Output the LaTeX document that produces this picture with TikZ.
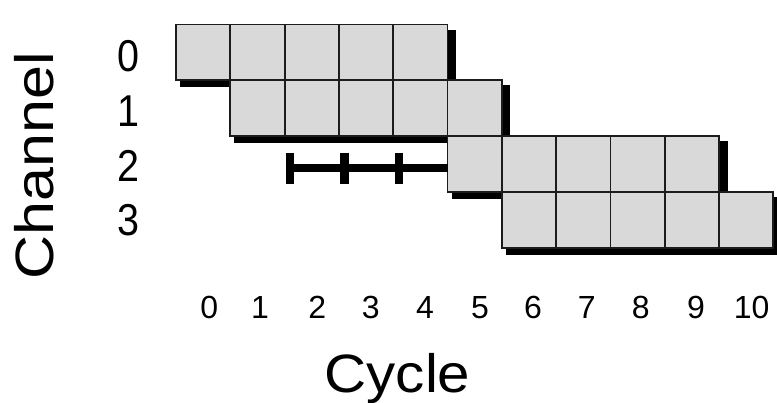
\documentclass[tikz,border=0pt]{standalone}
\usepackage{fontspec}
\setmainfont{Liberation Sans}
\usetikzlibrary{calc,backgrounds}
\definecolor{cellfill}{RGB}{217,217,217}
\definecolor{cellline}{RGB}{28,28,28}
\tikzset{
  cell/.style={draw=cellline, fill=cellfill, line width=1.8pt,
    minimum width=54.3pt, minimum height=55.8pt, inner sep=0pt,
    outer sep=0pt, anchor=north west},
  shadowfill/.style={fill=black},
  barline/.style={line width=8.5pt, draw=black},
  tickline/.style={line width=8.5pt, draw=black},
  chnum/.style={inner sep=0pt, font=\fontsize{39.5}{40}\selectfont},
  cycnum/.style={inner sep=0pt, font=\fontsize{32}{34}\selectfont},
  axlabel/.style={inner sep=0pt, font=\fontsize{54}{56}\selectfont}
}
\begin{document}
\begin{tikzpicture}[x=1pt,y=-1pt]
\useasboundingbox (0,0) rectangle (777,402);
\begin{pgfonlayer}{background}
  \fill[white] (0,0) rectangle (777,402);
\end{pgfonlayer}
% rows: row index / first column / last column / top
\foreach \r/\a/\b/\t in {0/0/4/24.5, 1/1/5/80.3, 2/5/9/136.1, 3/6/10/191.9}{
  \foreach \k in {\a,...,\b}{
    \node[cell] (c-\r-\k) at ({176+54.3*\k},\t) {};
  }
  \begin{pgfonlayer}{background}
    \fill[shadowfill] ($(c-\r-\a.north west)+(4,5)$) rectangle ($(c-\r-\b.south east)+(8.5,7)$);
  \end{pgfonlayer}
}
% bar in channel 2
\coordinate (t1) at (290,168);
\coordinate (t2) at (344.5,168);
\coordinate (t3) at (399,168);
\draw[barline] (t1) -- (t1 -| c-2-5.west);
\foreach \p in {t1,t2,t3}{
  \draw[tickline] ($(\p)+(0,-15.5)$) -- ($(\p)+(0,15.5)$);
}
% channel numbers
\foreach \n/\y in {0/56,1/111,2/165.5,3/220.5}{
  \node[chnum] (ch-\n) at (128,\y) {\scalebox{1}[1.13]{\n}};
}
% cycle numbers
\foreach \n/\x in {0/209.3,1/260,2/317.3,3/370.7,4/425,5/480,6/533,7/586.7,8/640.7,9/696,10/751.7}{
  \node[cycnum] (cy-\n) at (\x,307.7) {\n};
}
% axis labels
\node[axlabel, rotate=90, anchor=base] (chlabel) at (53.3,166) {\scalebox{1.13}[1]{Channel}};
\node[axlabel, anchor=base] (cylabel) at (397.5,392) {\scalebox{1.08}[1]{Cycle}};
\end{tikzpicture}
\end{document}
